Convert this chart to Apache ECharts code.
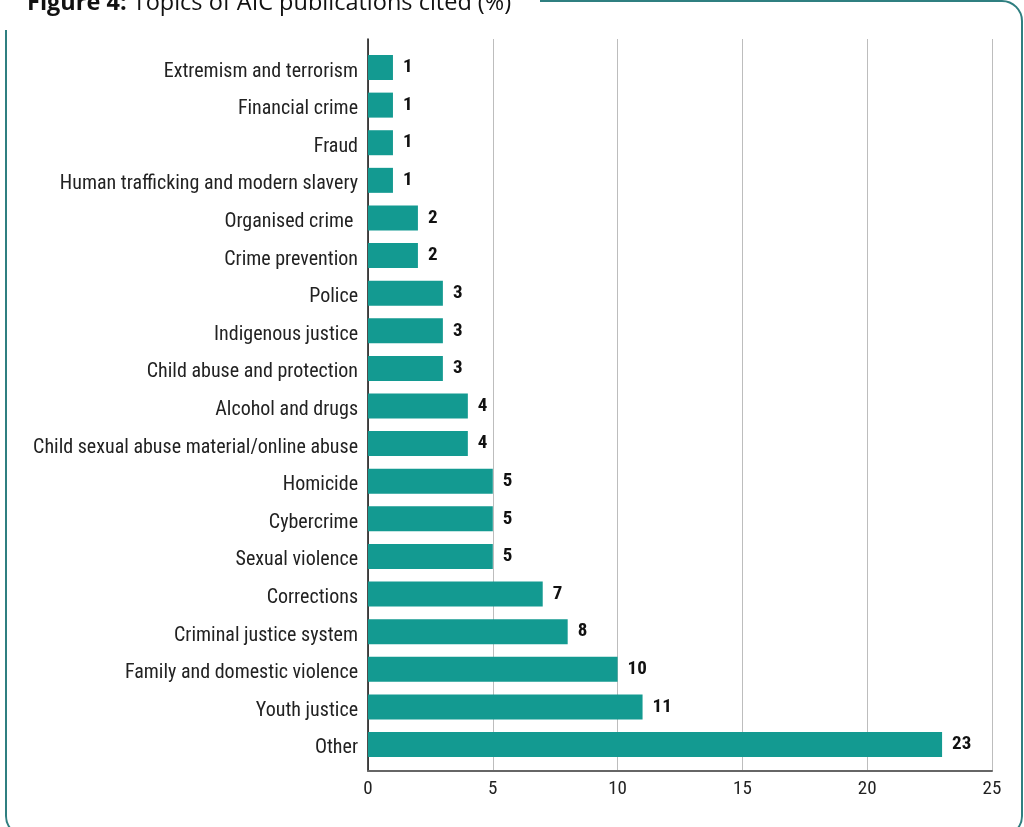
<!DOCTYPE html>
<html><head><meta charset="utf-8">
<script src="https://cdn.jsdelivr.net/npm/echarts@6/dist/echarts.min.js"></script>
<style>html,body{margin:0;padding:0;background:#fff}#c{width:1024px;height:827px}</style>
</head><body><div id="c"></div>
<script>
const categories = [
  "Extremism and terrorism","Financial crime","Fraud","Human trafficking and modern slavery",
  "Organised crime ","Crime prevention","Police","Indigenous justice","Child abuse and protection",
  "Alcohol and drugs","Child sexual abuse material/online abuse","Homicide","Cybercrime",
  "Sexual violence","Corrections","Criminal justice system","Family and domestic violence",
  "Youth justice","Other"
];
const values = [1,1,1,1,2,2,3,3,3,4,4,5,5,5,7,8,10,11,23];
const xTicks = [0,5,10,15,20,25];
const titleBold = "Figure 4:";
const titleRest = " Topics of AIC publications cited (%)";

const condFont = '"Roboto Condensed","Liberation Sans Narrow","DejaVu Sans Condensed","Arial Narrow",Roboto,sans-serif';
const chart = echarts.init(document.getElementById('c'), null, {renderer:'canvas'});
chart.setOption({
  animation:false,
  backgroundColor:'#fff',
  grid:[
    {left:368,right:32,top:39,bottom:56},
    {left:368,right:32,top:48.7,bottom:63.7}
  ],
  xAxis:[
    {gridIndex:0,type:'value',min:xTicks[0],max:xTicks[xTicks.length-1],interval:5,
     axisLine:{show:true,lineStyle:{color:'#666',width:2}},axisTick:{show:false},
     axisLabel:{color:'#222',fontSize:19,fontFamily:condFont,margin:9},
     splitLine:{show:true,lineStyle:{color:'#bdbdbd',width:1}}},
    {gridIndex:1,type:'value',min:xTicks[0],max:xTicks[xTicks.length-1],show:false}
  ],
  yAxis:[
    {gridIndex:0,type:'category',data:[''],show:true,
     axisLine:{show:true,lineStyle:{color:'#111',width:1.5}},axisTick:{show:false},axisLabel:{show:false}},
    {gridIndex:1,type:'category',data:categories,inverse:true,
     axisLine:{show:false},axisTick:{show:false},
     axisLabel:{margin:10,formatter:function(v){return '{a|'+v+'}';},
       rich:{a:{color:'#222',fontSize:20,fontFamily:condFont,padding:[8,0,0,0]}}}}
  ],
  series:[{
    type:'bar',xAxisIndex:1,yAxisIndex:1,data:values,barWidth:25,
    itemStyle:{color:'#139a91'},
    label:{show:true,position:'right',distance:10,color:'#111',fontWeight:'bold',fontSize:19,fontFamily:condFont}
  }],
  graphic:[
    {type:'rect',shape:{x:6,y:1,width:1016,height:835,r:20},
     style:{fill:'none',stroke:'#2f7f80',lineWidth:2},z:1,silent:true},
    {type:'rect',shape:{x:0,y:0,width:540,height:30},style:{fill:'#fff'},z:2,silent:true},
    {type:'text',x:27,y:3,z:3,silent:true,
     style:{text:'{b|'+titleBold+'}{n|'+titleRest+'}',verticalAlign:'middle',
       rich:{b:{fontFamily:'"Open Sans","Noto Sans",sans-serif',fontWeight:'bold',fontSize:23.5,fill:'#111'},
             n:{fontFamily:'"Open Sans","Noto Sans",sans-serif',fontSize:23.5,fill:'#111'}}}}
  ]
});
</script></body></html>
